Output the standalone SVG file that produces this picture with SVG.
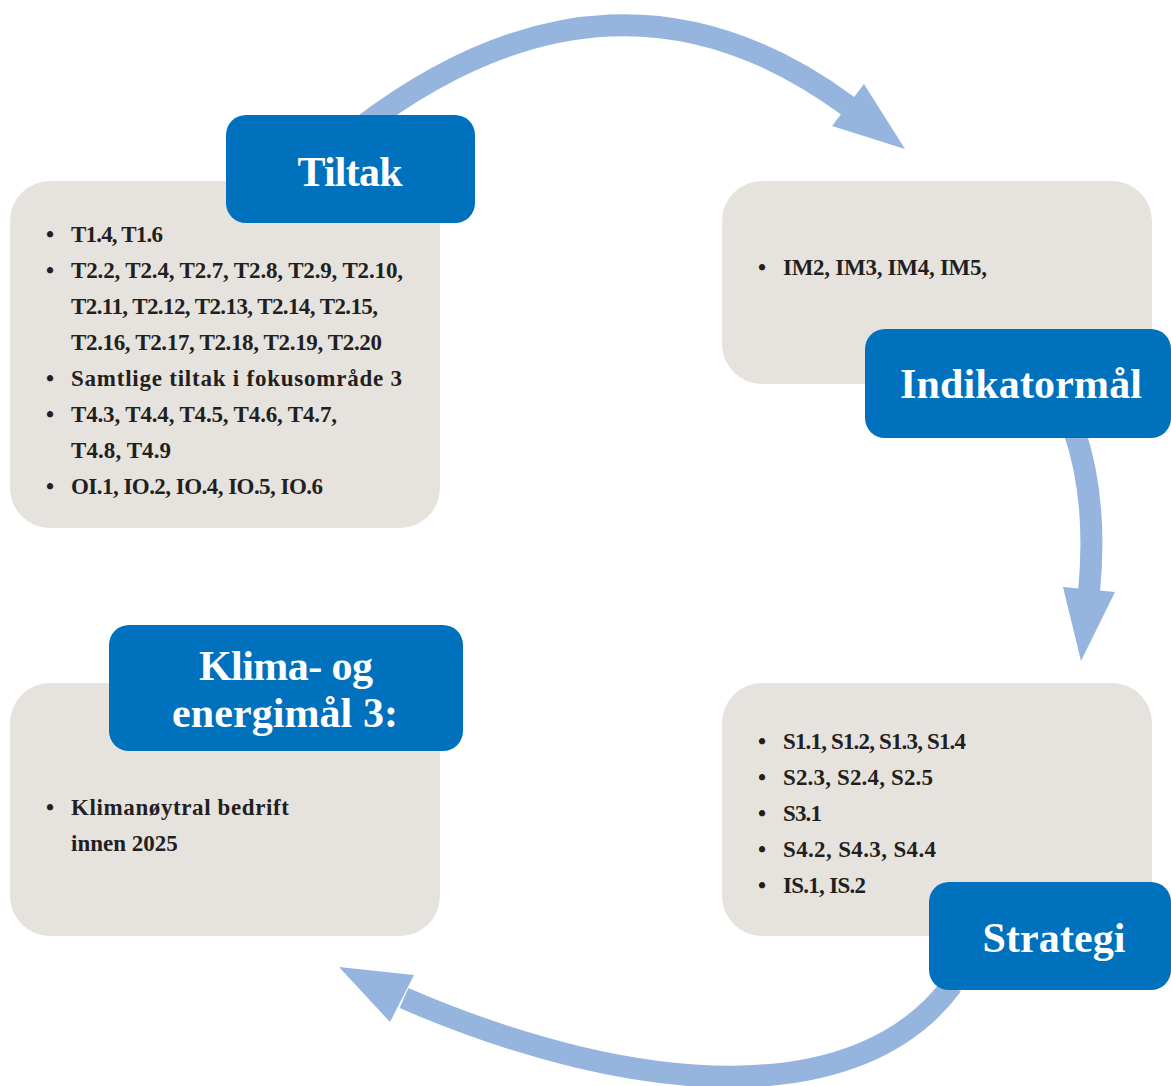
<svg xmlns="http://www.w3.org/2000/svg" width="1171" height="1086" viewBox="0 0 1171 1086">
<style>
.box{fill:#E6E3DE}
.lab{fill:#0071BC}
.arr{fill:none;stroke:#96B5DE;stroke-width:22}
.head{fill:#96B5DE}
.t{font-family:"Liberation Serif","DejaVu Serif",serif;font-weight:bold;font-size:23px;fill:#231F20}
.h{font-family:"Liberation Serif","DejaVu Serif",serif;font-weight:bold;font-size:42px;fill:#FFFFFF;text-anchor:middle}
</style>
<rect width="1171" height="1086" fill="#FFFFFF"/>
<g id="connectors">
<path class="arr" d="M360,128 Q615,-66 848,106"/>
<polygon class="head" points="864,84 905,149 832,126"/>
<path class="arr" d="M1074,430 Q1098,500 1089,592"/>
<polygon class="head" points="1063,587 1115,592 1081,661"/>
<path class="arr" d="M952,985 C860,1110 640,1100 404,998"/>
<polygon class="head" points="339,967 414,975 390,1022"/>
</g>
<g id="tiltak">
<rect class="box" x="10" y="181" width="430" height="347" rx="40"/>
<rect class="lab" x="226" y="115" width="249" height="108" rx="20"/>
<text class="h" x="350" y="186" textLength="105">Tiltak</text>
<text class="t" x="46" y="242">•</text><text class="t" x="71" y="242" textLength="92">T1.4, T1.6</text>
<text class="t" x="46" y="278">•</text><text class="t" x="71" y="278" textLength="332">T2.2, T2.4, T2.7, T2.8, T2.9, T2.10,</text>
<text class="t" x="71" y="314" textLength="307">T2.11, T2.12, T2.13, T2.14, T2.15,</text>
<text class="t" x="71" y="350" textLength="311">T2.16, T2.17, T2.18, T2.19, T2.20</text>
<text class="t" x="46" y="386">•</text><text class="t" x="71" y="386" textLength="331">Samtlige tiltak i fokusområde 3</text>
<text class="t" x="46" y="422">•</text><text class="t" x="71" y="422" textLength="266">T4.3, T4.4, T4.5, T4.6, T4.7,</text>
<text class="t" x="71" y="458" textLength="100">T4.8, T4.9</text>
<text class="t" x="46" y="494">•</text><text class="t" x="71" y="494" textLength="252">OI.1, IO.2, IO.4, IO.5, IO.6</text>
</g>
<g id="indikatormal">
<rect class="box" x="722" y="181" width="430" height="203" rx="40"/>
<rect class="lab" x="865" y="329" width="306" height="109" rx="20"/>
<text class="h" x="1021" y="398" textLength="242">Indikatormål</text>
<text class="t" x="758" y="275">•</text><text class="t" x="783" y="275" textLength="204">IM2, IM3, IM4, IM5,</text>
</g>
<g id="strategi">
<rect class="box" x="722" y="683" width="430" height="253" rx="40"/>
<rect class="lab" x="929" y="882" width="242" height="108" rx="20"/>
<text class="h" x="1054" y="952" textLength="143">Strategi</text>
<text class="t" x="758" y="749">•</text><text class="t" x="783" y="749" textLength="183">S1.1, S1.2, S1.3, S1.4</text>
<text class="t" x="758" y="785">•</text><text class="t" x="783" y="785" textLength="150">S2.3, S2.4, S2.5</text>
<text class="t" x="758" y="821">•</text><text class="t" x="783" y="821" textLength="39">S3.1</text>
<text class="t" x="758" y="857">•</text><text class="t" x="783" y="857" textLength="153">S4.2, S4.3, S4.4</text>
<text class="t" x="758" y="893">•</text><text class="t" x="783" y="893" textLength="83">IS.1, IS.2</text>
</g>
<g id="klima">
<rect class="box" x="10" y="683" width="430" height="253" rx="40"/>
<rect class="lab" x="109" y="625" width="354" height="126" rx="20"/>
<text class="h" x="286" y="680" textLength="174">Klima- og</text>
<text class="h" x="285" y="727" textLength="226">energimål 3:</text>
<text class="t" x="46" y="815">•</text><text class="t" x="71" y="815" textLength="218">Klimanøytral bedrift</text>
<text class="t" x="71" y="851">innen 2025</text>
</g>
</svg>
